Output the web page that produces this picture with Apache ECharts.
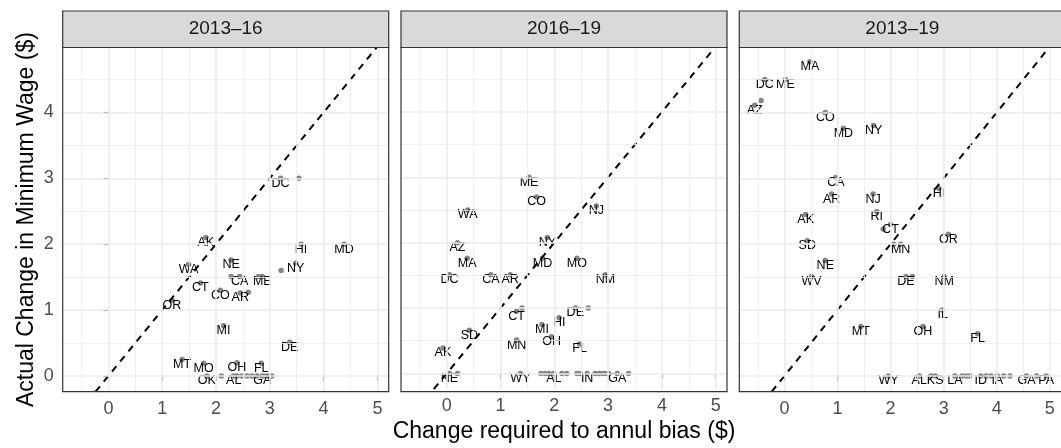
<!DOCTYPE html>
<html><head><meta charset="utf-8">
<script src="https://cdn.jsdelivr.net/npm/echarts@6/dist/echarts.min.js"></script>
<style>html,body{margin:0;padding:0;background:#fff;overflow:hidden}#c{width:1061px;height:448px}</style>
</head><body><div id="c"></div>
<script>
// ---- data ----
const panelTitles = ['2013–16', '2016–19', '2013–19'];

// 2013–16 ("" = point whose label was dropped for overlap)
const states1 = ['DC','','AK','HI','MD','NE','WA','NY','','','CA','','ME','CT','CO','AR','','OR','MI','DE','MT','MO','OH','FL',
                 'OK','','AL','','','','','','GA','','',''];
const x1 = [3.20,3.54,1.81,3.58,4.38,2.28,1.49,3.48,3.21,2.28,2.44,2.79,2.86,1.71,2.08,2.45,2.60,1.18,2.14,3.37,1.37,1.77,2.39,2.84,
            1.83,2.10,2.33,2.39,2.48,2.58,2.67,2.76,2.86,2.92,2.98,3.04];
const y1 = [3.00,3.00,2.10,2.00,2.00,1.76,1.69,1.71,1.60,1.51,1.51,1.51,1.51,1.41,1.30,1.26,1.27,1.15,0.76,0.51,0.25,0.19,0.20,0.19,
            0,0,0,0,0,0,0,0,0,0,0,0];

// 2016–19
const states2 = ['ME','CO','WA','NJ','NY','AZ','MA','MD','MO','DC','CA','AR','NM','CT','','DE','','HI','MI','SD','OH','MN','FL','AK',
                 'NE','','WY','','','','AL','','','','','IN','','','','','','GA',''];
const x2 = [1.53,1.67,0.39,2.78,1.87,0.20,0.38,1.78,2.42,0.05,0.82,1.18,2.95,1.30,1.40,2.39,2.63,2.09,1.77,0.42,1.95,1.30,2.47,-0.07,
            0.05,0.20,1.37,1.75,1.83,1.90,1.99,2.14,2.23,2.42,2.48,2.61,2.76,2.83,2.89,2.95,3.01,3.17,3.38];
const y2 = [3.00,2.70,2.50,2.56,2.08,2.00,1.76,1.76,1.76,1.51,1.51,1.51,1.51,0.95,1.00,1.00,1.00,0.85,0.75,0.66,0.56,0.51,0.45,0.39,
            0,0,0,0,0,0,0,0,0,0,0,0,0,0,0,0,0,0,0];

// 2013–19
const states3 = ['MA','DC','ME','AZ','','CO','MD','NY','CA','HI','AR','NJ','AK','RI','CT','','OR','SD','MN','','NE','WV','DE','','NM',
                 'IL','MT','OH','FL',
                 'WY','AL','','KS','LA','','','','ID','','','IA','','','GA','','PA'];
const x3 = [0.48,-0.37,0.02,-0.56,-0.44,0.77,1.11,1.68,0.97,2.91,0.89,1.67,0.40,1.74,2.00,1.86,3.09,0.43,2.19,2.06,0.77,0.51,2.29,2.41,3.01,
            2.98,1.44,2.61,3.64,
            1.96,2.54,2.76,2.84,3.21,3.35,3.43,3.49,3.70,3.80,3.89,4.01,4.13,4.25,4.56,4.75,4.93];
const y3 = [4.77,4.50,4.50,4.11,4.18,4.00,3.76,3.80,3.01,2.85,2.76,2.76,2.45,2.49,2.30,2.23,2.15,2.05,2.00,2.00,1.75,1.51,1.51,1.51,1.51,
            1.00,0.75,0.75,0.64,
            0,0,0,0,0,0,0,0,0,0,0,0,0,0,0,0,0];

const xTicks = [0, 1, 2, 3, 4, 5];
const yTicks = [0, 1, 2, 3, 4];
const xMinor = [-0.5, 0.5, 1.5, 2.5, 3.5, 4.5];
const yMinor = [0.5, 1.5, 2.5, 3.5, 4.5];
const xRange = [-0.85, 5.21];
const yRange = [-0.24, 4.985];

// ---- layout ----
const FONT = "'Liberation Sans', Arial, Helvetica, sans-serif";
const lefts = [62.7, 401, 739.3];
const W = 326, TOP = 47.5, H = 344.2, STRIP_TOP = 11;
const panels = [[states1, x1, y1], [states2, x2, y2], [states3, x3, y3]];

const grids = [], xAxes = [], yAxes = [], series = [], graphics = [];
const lo = Math.max(xRange[0], yRange[0]), hi = Math.min(xRange[1], yRange[1]);

panels.forEach((p, i) => {
  grids.push({ left: lefts[i], top: TOP, width: W, height: H, show: false, containLabel: false });
  xAxes.push({
    type: 'value', gridIndex: i, min: xRange[0], max: xRange[1],
    axisLine: { show: false },
    axisTick: { show: true, customValues: xTicks, length: 5, lineStyle: { color: '#333333', width: 1.1 } },
    axisLabel: { customValues: xTicks, color: '#4D4D4D', fontSize: 18, fontFamily: FONT, margin: 8 },
    splitLine: { show: false },
    name: i === 1 ? 'Change required to annul bias ($)' : '',
    nameLocation: 'middle', nameGap: 30,
    nameTextStyle: { fontSize: 23, color: '#000', fontFamily: FONT }
  });
  yAxes.push({
    type: 'value', gridIndex: i, min: yRange[0], max: yRange[1],
    axisLine: { show: false },
    axisTick: { show: i === 0, customValues: yTicks, length: 5, lineStyle: { color: '#333333', width: 1.1 } },
    axisLabel: { show: i === 0, customValues: yTicks, color: '#4D4D4D', fontSize: 18, fontFamily: FONT, margin: 9 },
    splitLine: { show: false },
    name: i === 0 ? 'Actual Change in Minimum Wage ($)' : '',
    nameLocation: 'middle', nameGap: 25,
    nameTextStyle: { fontSize: 23, color: '#000', fontFamily: FONT }
  });

  const minorStyle = { color: '#EBEBEB', width: 0.8, type: 'solid' };
  const majorStyle = { color: '#EBEBEB', width: 1.6, type: 'solid' };
  const ml = [];
  xMinor.forEach(v => ml.push({ xAxis: v, lineStyle: minorStyle }));
  yMinor.forEach(v => ml.push({ yAxis: v, lineStyle: minorStyle }));
  xTicks.forEach(v => ml.push({ xAxis: v, lineStyle: majorStyle }));
  yTicks.forEach(v => ml.push({ yAxis: v, lineStyle: majorStyle }));
  series.push({
    type: 'line', xAxisIndex: i, yAxisIndex: i, data: [], z: 1, silent: true,
    markLine: { silent: true, symbol: ['none', 'none'], label: { show: false }, animation: false, data: ml,
      emphasis: { disabled: true } }
  });

  const [st, xs, ys] = p;
  series.push({
    type: 'scatter', xAxisIndex: i, yAxisIndex: i, z: 3, silent: true, animation: false,
    symbolSize: 5.5,
    itemStyle: { color: '#858585', opacity: 1 },
    label: { show: true, position: 'inside', offset: [0, 5], formatter: '{b}',
      fontSize: 12.5, color: '#000', fontFamily: FONT },
    data: xs.map((x, k) => ({ name: st[k], value: [x, ys[k]] }))
  });

  series.push({
    type: 'line', xAxisIndex: i, yAxisIndex: i, z: 4, silent: true, animation: false,
    symbol: 'none', data: [[lo, lo], [hi, hi]],
    lineStyle: { color: '#000', width: 2, type: [7, 6] }
  });

  graphics.push({
    type: 'rect', shape: { x: lefts[i], y: TOP, width: W, height: H }, z: 100, silent: true,
    style: { fill: 'none', stroke: '#333333', lineWidth: 1.2 }
  });
  graphics.push({
    type: 'rect', shape: { x: lefts[i], y: STRIP_TOP, width: W, height: TOP - STRIP_TOP }, z: 100, silent: true,
    style: { fill: '#D9D9D9', stroke: '#333333', lineWidth: 1.2 }
  });
  graphics.push({
    type: 'text', x: lefts[i] + W / 2, y: (STRIP_TOP + TOP) / 2, z: 101, silent: true,
    style: { text: panelTitles[i], fill: '#1A1A1A', fontSize: 19, fontFamily: FONT, align: 'center', verticalAlign: 'middle' }
  });
});

const chart = echarts.init(document.getElementById('c'), null, { renderer: 'canvas' });
chart.setOption({
  animation: false,
  backgroundColor: '#fff',
  grid: grids, xAxis: xAxes, yAxis: yAxes, series: series, graphic: graphics
});
</script></body></html>
